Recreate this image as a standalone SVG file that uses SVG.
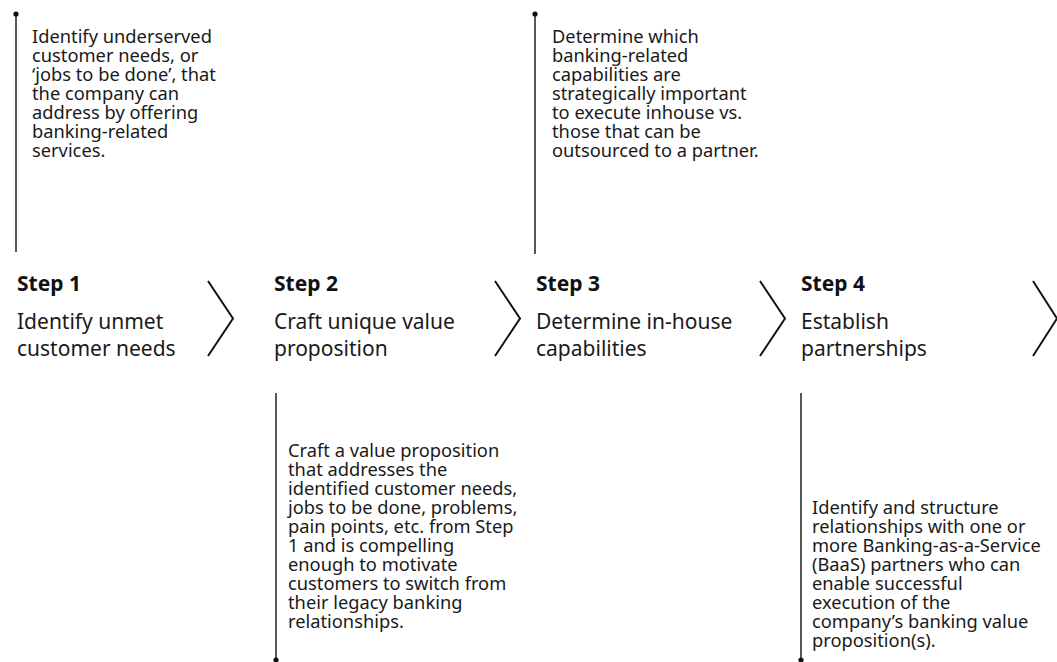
<svg xmlns="http://www.w3.org/2000/svg" width="1057" height="662" viewBox="0 0 1057 662">
  <style>
    .body { font-family: "Noto Sans", "Open Sans", "Liberation Sans", sans-serif; font-size: 18.3px; fill: #1a1a1a; }
    .step { font-family: "Noto Sans", "Open Sans", "Liberation Sans", sans-serif; font-size: 21px; font-weight: 700; fill: #111; }
    .title { font-family: "Noto Sans", "Open Sans", "Liberation Sans", sans-serif; font-size: 21px; fill: #1a1a1a; }
    .stem { stroke: #222; stroke-width: 1.5; fill: none; }
    .dot { fill: #111; }
    .chev { stroke: #111; stroke-width: 2; fill: none; stroke-linejoin: miter; }
  </style>

  <!-- leader lines with dot ends and chevrons between steps -->
  <g id="connectors">
    <line class="stem" x1="16" y1="14" x2="16" y2="252"/>
    <circle class="dot" cx="16" cy="14" r="2.6"/>
    <line class="stem" x1="535" y1="14" x2="535" y2="254"/>
    <circle class="dot" cx="535" cy="14" r="2.6"/>
    <line class="stem" x1="276" y1="393" x2="276" y2="660"/>
    <circle class="dot" cx="276" cy="660" r="2.6"/>
    <line class="stem" x1="801" y1="393" x2="801" y2="660"/>
    <circle class="dot" cx="801" cy="660" r="2.6"/>
    <polyline class="chev" points="208,281 233,318.5 208,356"/>
    <polyline class="chev" points="495,281 520,318.5 495,356"/>
    <polyline class="chev" points="760,281 785,318.5 760,356"/>
    <polyline class="chev" points="1033,281 1057,318.5 1033,356"/>
  </g>

  <g id="step1">
    <text class="step" x="17" y="291">Step 1</text>
    <text class="title" x="17" y="329">Identify unmet</text>
    <text class="title" x="17" y="356">customer needs</text>
    <text class="body" x="32" y="43">
      <tspan x="32" dy="0">Identify underserved</tspan>
      <tspan x="32" dy="19">customer needs, or</tspan>
      <tspan x="32" dy="19">‘jobs to be done’, that</tspan>
      <tspan x="32" dy="19">the company can</tspan>
      <tspan x="32" dy="19">address by offering</tspan>
      <tspan x="32" dy="19">banking-related</tspan>
      <tspan x="32" dy="19">services.</tspan>
    </text>
  </g>

  <g id="step2">
    <text class="step" x="274" y="291">Step 2</text>
    <text class="title" x="274" y="329">Craft unique value</text>
    <text class="title" x="274" y="356">proposition</text>
    <text class="body" x="288" y="457">
      <tspan x="288" dy="0">Craft a value proposition</tspan>
      <tspan x="288" dy="19">that addresses the</tspan>
      <tspan x="288" dy="19">identified customer needs,</tspan>
      <tspan x="288" dy="19">jobs to be done, problems,</tspan>
      <tspan x="288" dy="19">pain points, etc. from Step</tspan>
      <tspan x="288" dy="19">1 and is compelling</tspan>
      <tspan x="288" dy="19">enough to motivate</tspan>
      <tspan x="288" dy="19">customers to switch from</tspan>
      <tspan x="288" dy="19">their legacy banking</tspan>
      <tspan x="288" dy="19">relationships.</tspan>
    </text>
  </g>

  <g id="step3">
    <text class="step" x="536" y="291">Step 3</text>
    <text class="title" x="536" y="329">Determine in-house</text>
    <text class="title" x="536" y="356">capabilities</text>
    <text class="body" x="552" y="43">
      <tspan x="552" dy="0">Determine which</tspan>
      <tspan x="552" dy="19">banking-related</tspan>
      <tspan x="552" dy="19">capabilities are</tspan>
      <tspan x="552" dy="19">strategically important</tspan>
      <tspan x="552" dy="19">to execute inhouse vs.</tspan>
      <tspan x="552" dy="19">those that can be</tspan>
      <tspan x="552" dy="19">outsourced to a partner.</tspan>
    </text>
  </g>

  <g id="step4">
    <text class="step" x="801" y="291">Step 4</text>
    <text class="title" x="801" y="329">Establish</text>
    <text class="title" x="801" y="356">partnerships</text>
    <text class="body" x="812" y="514">
      <tspan x="812" dy="0">Identify and structure</tspan>
      <tspan x="812" dy="19">relationships with one or</tspan>
      <tspan x="812" dy="19">more Banking-as-a-Service</tspan>
      <tspan x="812" dy="19">(BaaS) partners who can</tspan>
      <tspan x="812" dy="19">enable successful</tspan>
      <tspan x="812" dy="19">execution of the</tspan>
      <tspan x="812" dy="19">company’s banking value</tspan>
      <tspan x="812" dy="19">proposition(s).</tspan>
    </text>
  </g>
</svg>
